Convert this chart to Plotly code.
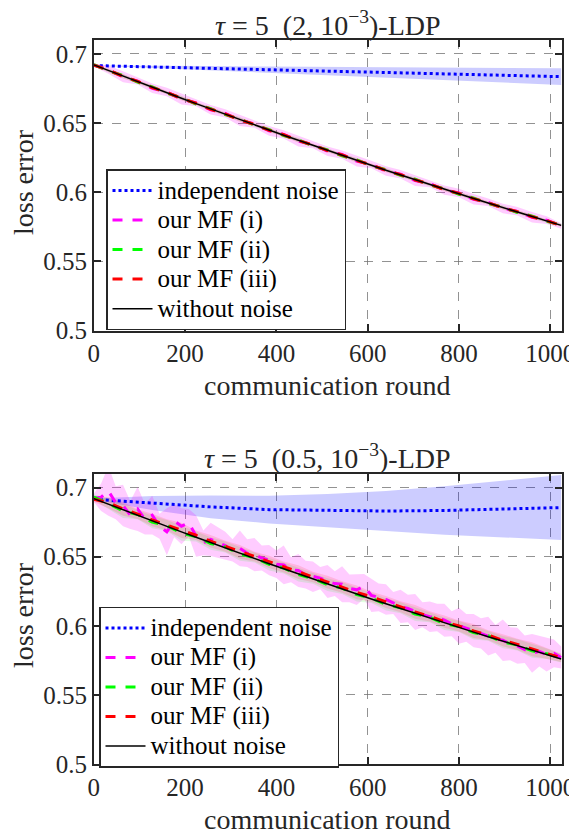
import plotly.graph_objects as go

# ---------------- data ----------------
rounds = [0, 32, 64, 96, 128, 160, 192, 224, 256, 288, 320, 352, 384, 416, 448, 480, 512,
          544, 576, 608, 640, 672, 704, 736, 768, 800, 832, 864, 896, 928, 960, 992, 1024]
rounds_fine = [0, 16, 32, 48, 64, 80, 96, 112, 128, 144, 160, 176, 192, 208, 224, 240, 256,
               272, 288, 304, 320, 336, 352, 368, 384, 400, 416, 432, 448, 464, 480, 496, 512,
               528, 544, 560, 576, 592, 608, 624, 640, 656, 672, 688, 704, 720, 736, 752, 768,
               784, 800, 816, 832, 848, 864, 880, 896, 912, 928, 944, 960, 976, 992, 1008, 1024]
ind_rounds = [0, 128, 256, 384, 512, 640, 768, 896, 1024]

# without noise (same in both panels)
no_noise = [0.6920, 0.6879, 0.6839, 0.6798, 0.6758, 0.6719, 0.6679, 0.6640, 0.6601, 0.6563, 0.6525,
            0.6487, 0.6449, 0.6412, 0.6375, 0.6338, 0.6302, 0.6266, 0.6230, 0.6194, 0.6159, 0.6124,
            0.6090, 0.6055, 0.6021, 0.5988, 0.5954, 0.5921, 0.5888, 0.5856, 0.5824, 0.5792, 0.5760]

# ---- panel 1: (2, 1e-3)-LDP ----
ind_top = [0.6915, 0.6905, 0.6895, 0.6885, 0.6875, 0.6865, 0.6855, 0.6845, 0.6835]
ind_top_sd = [0.0000, 0.0010, 0.0017, 0.0023, 0.0031, 0.0038, 0.0045, 0.0053, 0.0060]
mf1_top = [0.6920, 0.6886, 0.6834, 0.6803, 0.6751, 0.6724, 0.6673, 0.6646, 0.6596, 0.6569, 0.6519,
           0.6493, 0.6443, 0.6418, 0.6369, 0.6344, 0.6296, 0.6272, 0.6224, 0.6200, 0.6153, 0.6130,
           0.6084, 0.6061, 0.6015, 0.5994, 0.5948, 0.5927, 0.5882, 0.5862, 0.5818, 0.5798, 0.5756]
mf1_top_sd = [0.0010, 0.0030, 0.0040, 0.0025, 0.0035, 0.0030, 0.0040, 0.0025, 0.0035, 0.0030, 0.0040,
              0.0028, 0.0035, 0.0030, 0.0038, 0.0026, 0.0034, 0.0030, 0.0038, 0.0027, 0.0035, 0.0031,
              0.0039, 0.0026, 0.0034, 0.0030, 0.0038, 0.0027, 0.0035, 0.0031, 0.0038, 0.0028, 0.0020]
mf2_top = [0.6922, 0.6877, 0.6842, 0.6795, 0.6761, 0.6716, 0.6682, 0.6637, 0.6604, 0.6560, 0.6528,
           0.6484, 0.6452, 0.6409, 0.6378, 0.6335, 0.6305, 0.6263, 0.6233, 0.6191, 0.6162, 0.6121,
           0.6093, 0.6052, 0.6024, 0.5985, 0.5957, 0.5918, 0.5891, 0.5853, 0.5827, 0.5789, 0.5763]
mf3_top = [0.6918, 0.6882, 0.6837, 0.6801, 0.6756, 0.6722, 0.6677, 0.6643, 0.6599, 0.6566, 0.6523,
           0.6490, 0.6447, 0.6415, 0.6373, 0.6341, 0.6300, 0.6269, 0.6228, 0.6197, 0.6157, 0.6127,
           0.6088, 0.6058, 0.6019, 0.5991, 0.5952, 0.5924, 0.5886, 0.5859, 0.5822, 0.5795, 0.5758]
mf23_top_sd = [0.0005, 0.0012, 0.0015, 0.0011, 0.0014, 0.0012, 0.0015, 0.0011, 0.0014, 0.0012, 0.0015,
               0.0011, 0.0014, 0.0012, 0.0015, 0.0011, 0.0014, 0.0012, 0.0015, 0.0011, 0.0014, 0.0012,
               0.0015, 0.0011, 0.0014, 0.0012, 0.0015, 0.0011, 0.0014, 0.0012, 0.0015, 0.0011, 0.0010]

# ---- panel 2: (0.5, 1e-3)-LDP ----
ind_bot = [0.6915, 0.6888, 0.6860, 0.6840, 0.6833, 0.6830, 0.6834, 0.6842, 0.6855]
ind_bot_sd = [0.0005, 0.0050, 0.0082, 0.0100, 0.0120, 0.0145, 0.0175, 0.0205, 0.0235]
mf1_bot = [0.6925, 0.6930, 0.6975, 0.6890, 0.6870, 0.6800, 0.6845, 0.6770, 0.6800, 0.6720, 0.6680,
           0.6760, 0.6720, 0.6745, 0.6650, 0.6600, 0.6625, 0.6600, 0.6580, 0.6545, 0.6560, 0.6525,
           0.6515, 0.6490, 0.6475, 0.6445, 0.6440, 0.6405, 0.6400, 0.6370, 0.6355, 0.6345, 0.6320,
           0.6305, 0.6300, 0.6270, 0.6260, 0.6285, 0.6220, 0.6205, 0.6190, 0.6165, 0.6140, 0.6125,
           0.6100, 0.6080, 0.6065, 0.6060, 0.6040, 0.6015, 0.6000, 0.5985, 0.5965, 0.5945, 0.5925,
           0.5905, 0.5895, 0.5870, 0.5855, 0.5830, 0.5800, 0.5815, 0.5790, 0.5800, 0.5770]
mf1_bot_sd = [0.003, 0.010, 0.018, 0.012, 0.015, 0.010, 0.016, 0.011, 0.014, 0.009, 0.017, 0.012,
              0.013, 0.010, 0.015, 0.009, 0.012, 0.011, 0.010, 0.008, 0.013, 0.010, 0.012, 0.009,
              0.011, 0.010, 0.014, 0.009, 0.012, 0.010, 0.011, 0.008, 0.012, 0.009, 0.013, 0.010,
              0.011, 0.009, 0.012, 0.010, 0.011, 0.008, 0.012, 0.010, 0.013, 0.009, 0.011, 0.010,
              0.012, 0.009, 0.013, 0.010, 0.012, 0.011, 0.014, 0.010, 0.015, 0.012, 0.013, 0.010,
              0.014, 0.011, 0.012, 0.010, 0.008]
mf2_bot = [0.6930, 0.6885, 0.6830, 0.6805, 0.6750, 0.6725, 0.6670, 0.6645, 0.6595, 0.6570, 0.6520,
           0.6492, 0.6445, 0.6418, 0.6370, 0.6342, 0.6298, 0.6272, 0.6225, 0.6200, 0.6155, 0.6130,
           0.6085, 0.6062, 0.6015, 0.5995, 0.5950, 0.5928, 0.5882, 0.5862, 0.5818, 0.5798, 0.5765]
mf3_bot = [0.6915, 0.6890, 0.6845, 0.6808, 0.6765, 0.6730, 0.6690, 0.6655, 0.6612, 0.6575, 0.6535,
           0.6500, 0.6462, 0.6425, 0.6388, 0.6352, 0.6315, 0.6280, 0.6242, 0.6210, 0.6172, 0.6138,
           0.6100, 0.6068, 0.6030, 0.5998, 0.5962, 0.5932, 0.5895, 0.5865, 0.5830, 0.5800, 0.5768]
mf23_bot_sd = [0.002, 0.004, 0.005, 0.0035, 0.0045, 0.004, 0.0055, 0.0035, 0.0045, 0.004, 0.005,
               0.0035, 0.0045, 0.004, 0.005, 0.0038, 0.0046, 0.0042, 0.005, 0.0036, 0.0044, 0.004,
               0.005, 0.0037, 0.0045, 0.004, 0.005, 0.0036, 0.0044, 0.0041, 0.005, 0.0038, 0.003]

titles = ["<i>τ</i> = 5\u2002(2, 10<sup>−3</sup>)-LDP",
          "<i>τ</i> = 5\u2002(0.5, 10<sup>−3</sup>)-LDP"]
series_names = ["independent noise", "our MF (i)", "our MF (ii)", "our MF (iii)", "without noise"]
x_ticks = [0, 200, 400, 600, 800, 1000]
y_ticks = [0.5, 0.55, 0.6, 0.65, 0.7]
y_ticktext = ["0.5", "0.55", "0.6", "0.65", "0.7"]
x_label = "communication round"
y_label = "loss error"

# ---------------- figure ----------------
# the page body has an 8px margin, so the figure is 8px smaller and offsets are shifted
OFF = 8
W, H = 577 - OFF, 835 - OFF
FONT = "Liberation Serif, Times New Roman, serif"
TXT = "#262626"
FS = 25        # ticks / legend
FS_LAB = 28    # axis labels and titles
fig = go.Figure()


def px_x(px):
    return (px - OFF) / W


def px_y(py):
    return 1 - (py - OFF) / H


def band(x, mean, sd, color, xa, ya):
    upper = [m + s for m, s in zip(mean, sd)]
    lower = [m - s for m, s in zip(mean, sd)]
    fig.add_trace(go.Scatter(x=list(x) + list(x)[::-1], y=upper + lower[::-1],
                             fill="toself", fillcolor=color, line=dict(width=0),
                             mode="lines", showlegend=False, hoverinfo="skip",
                             xaxis=xa, yaxis=ya))


def leg_name(s):
    return "<span style='font-size:%dpx'>%s</span>" % (FS, s)


panels = [
    dict(xa="x", ya="y", leg="legend", ind=ind_top, ind_sd=ind_top_sd,
         x1=rounds, mf1=mf1_top, mf1_sd=mf1_top_sd, mf2=mf2_top, mf3=mf3_top, mf23_sd=mf23_top_sd),
    dict(xa="x2", ya="y2", leg="legend2", ind=ind_bot, ind_sd=ind_bot_sd,
         x1=rounds_fine, mf1=mf1_bot, mf1_sd=mf1_bot_sd, mf2=mf2_bot, mf3=mf3_bot, mf23_sd=mf23_bot_sd),
]

for p in panels:
    xa, ya, leg = p["xa"], p["ya"], p["leg"]
    band(ind_rounds, p["ind"], p["ind_sd"], "rgba(0,0,255,0.2)", xa, ya)
    band(p["x1"], p["mf1"], p["mf1_sd"], "rgba(255,0,255,0.2)", xa, ya)
    band(rounds, p["mf2"], p["mf23_sd"], "rgba(0,255,0,0.12)", xa, ya)
    band(rounds, p["mf3"], p["mf23_sd"], "rgba(255,0,0,0.12)", xa, ya)
    fig.add_trace(go.Scatter(x=ind_rounds, y=p["ind"], mode="lines", name=leg_name(series_names[0]),
                             line=dict(color="rgb(0,0,255)", width=3, dash="3px,3px"),
                             legend=leg, legendrank=1, xaxis=xa, yaxis=ya))
    fig.add_trace(go.Scatter(x=p["x1"], y=p["mf1"], mode="lines", name=leg_name(series_names[1]),
                             line=dict(color="rgb(255,0,255)", width=3, dash="10px,10px"),
                             legend=leg, legendrank=2, xaxis=xa, yaxis=ya))
    fig.add_trace(go.Scatter(x=rounds, y=p["mf2"], mode="lines", name=leg_name(series_names[2]),
                             line=dict(color="rgb(0,255,0)", width=3, dash="10px,10px"),
                             legend=leg, legendrank=3, xaxis=xa, yaxis=ya))
    fig.add_trace(go.Scatter(x=rounds, y=p["mf3"], mode="lines", name=leg_name(series_names[3]),
                             line=dict(color="rgb(255,0,0)", width=3, dash="10px,10px"),
                             legend=leg, legendrank=4, xaxis=xa, yaxis=ya))
    fig.add_trace(go.Scatter(x=rounds, y=no_noise, mode="lines", name=leg_name(series_names[4]),
                             line=dict(color="black", width=1.5),
                             legend=leg, legendrank=5, xaxis=xa, yaxis=ya))

xdom = [px_x(93.8), px_x(561.7)]
ydom_top = [px_y(330.5), px_y(40)]
ydom_bot = [px_y(764), px_y(473.7)]

axis_common = dict(showline=True, linecolor=TXT, linewidth=1.8, mirror="ticks",
                   ticks="inside", ticklen=7, tickwidth=1.5, tickcolor=TXT,
                   showgrid=True, gridcolor="rgba(110,110,110,0.75)", griddash="dash", gridwidth=1.3,
                   zeroline=False, automargin=False,
                   tickfont=dict(family=FONT, size=FS, color=TXT))

legend_common = dict(xanchor="left", yanchor="top", bgcolor="white", bordercolor=TXT,
                     borderwidth=1.5, font=dict(family=FONT, size=20.4, color="black"),
                     tracegroupgap=0, itemwidth=40)

fig.update_layout(
    width=W, height=H, margin=dict(l=0, r=0, t=0, b=0, autoexpand=False),
    paper_bgcolor="white", plot_bgcolor="white",
    font=dict(family=FONT, size=FS, color=TXT),
    xaxis=dict(domain=xdom, range=[0, 1025], tickvals=x_ticks, anchor="y", **axis_common),
    yaxis=dict(domain=ydom_top, range=[0.5, 0.71], tickvals=y_ticks, ticktext=y_ticktext,
               anchor="x", **axis_common),
    xaxis2=dict(domain=xdom, range=[0, 1025], tickvals=x_ticks, anchor="y2", **axis_common),
    yaxis2=dict(domain=ydom_bot, range=[0.5, 0.71], tickvals=y_ticks, ticktext=y_ticktext,
                anchor="x2", **axis_common),
    legend=dict(x=px_x(106), y=px_y(169.3), **legend_common),
    legend2=dict(x=px_x(99), y=px_y(606.7), **legend_common),
    showlegend=True,
)

cx = (xdom[0] + xdom[1]) / 2
annots = [
    dict(text=titles[0], x=cx, y=px_y(24)),
    dict(text=titles[1], x=cx, y=px_y(456)),
    dict(text=x_label, x=cx, y=px_y(385)),
    dict(text=x_label, x=cx, y=px_y(819)),
    dict(text=y_label, x=px_x(23), y=px_y(182), textangle=-90),
    dict(text=y_label, x=px_x(23), y=px_y(615), textangle=-90),
]
for a in annots:
    fig.add_annotation(xref="paper", yref="paper", showarrow=False, xanchor="center",
                       yanchor="middle", borderpad=0,
                       font=dict(family=FONT, size=FS_LAB, color=TXT), **a)

fig.write_html("out.html")
